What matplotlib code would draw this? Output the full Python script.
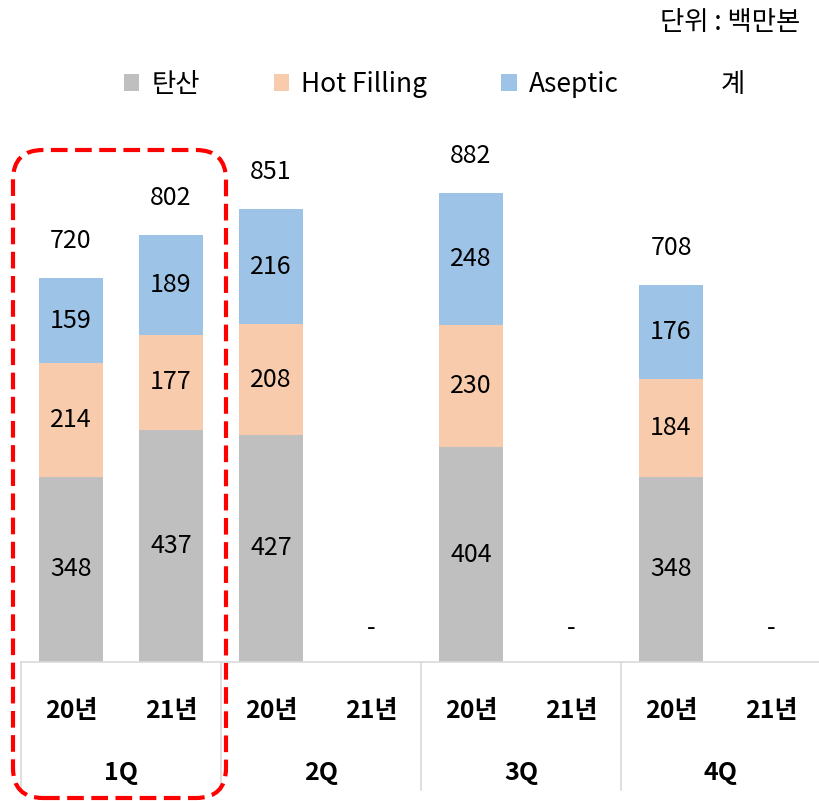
import matplotlib
matplotlib.use("Agg")
import matplotlib.pyplot as plt
from matplotlib.patches import Patch, FancyBboxPatch
from matplotlib.lines import Line2D
import matplotlib.transforms as mtrans
import numpy as np

plt.rcParams['font.family'] = ['Noto Sans CJK KR', 'DejaVu Sans']

quarters = ["1Q", "2Q", "3Q", "4Q"]
years = ["20년", "21년"]
# order: 1Q20, 1Q21, 2Q20, 2Q21, 3Q20, 3Q21, 4Q20, 4Q21 (None = no data)
soda = [348, 437, 427, None, 404, None, 348, None]
hot_filling = [214, 177, 208, None, 230, None, 184, None]
aseptic = [159, 189, 216, None, 248, None, 176, None]
totals = [720, 802, 851, None, 882, None, 708, None]
series_names = ["탄산", "Hot Filling", "Aseptic", "계"]
colors = ["#BFBFBF", "#F8CBAD", "#9DC3E6"]
unit_label = "단위 : 백만본"

W, H = 819, 801
fig = plt.figure(figsize=(W / 100, H / 100), dpi=100)
ax = fig.add_axes([21 / W, (H - 662) / H, 800 / W, 532 / H])
ax.set_xlim(-0.5, 7.5)
ax.set_ylim(0, 1000)

x = np.arange(len(soda))
bw = 0.64
fs = 18
bottom = np.zeros(len(x))
for vals, col in zip([soda, hot_filling, aseptic], colors):
    for i, v in enumerate(vals):
        if v is None:
            continue
        ax.bar(x[i], v, bw, bottom=bottom[i], color=col, edgecolor='none')
        ax.text(x[i], bottom[i] + v / 2, str(v), ha='center', va='center', fontsize=fs, color='black')
        bottom[i] += v

for i, t in enumerate(totals):
    if t is None:
        ax.annotate("-", (x[i], 0), xytext=(0, 34), textcoords='offset pixels',
                    ha='center', va='center', fontsize=fs)
    else:
        ax.annotate(str(t), (x[i], bottom[i]), xytext=(0, 37), textcoords='offset pixels',
                    ha='center', va='center', fontsize=fs)

for s in ['top', 'right', 'left']:
    ax.spines[s].set_visible(False)
ax.spines['bottom'].set_color('#D9D9D9')
ax.spines['bottom'].set_linewidth(1.2)
ax.set_yticks([])
ax.set_xticks(x)
ax.set_xticklabels(years * len(quarters), fontsize=fs, fontweight='bold')
ax.tick_params(axis='x', length=0, pad=27)

trans = mtrans.blended_transform_factory(ax.transData, ax.transAxes)
for b in np.arange(-0.5, 7.5, 2):
    ax.plot([b, b], [0, -128 / 532], transform=trans, color='#D9D9D9', lw=1.2, clip_on=False)
for qi, q in enumerate(quarters):
    ax.text(2 * qi + 0.5, -111 / 532, q, transform=trans, ha='center', va='center',
            fontsize=fs, fontweight='bold')

handles = [Patch(facecolor=c, edgecolor='none') for c in colors]
handles.append(Line2D([], [], color='none'))
fig.legend(handles, series_names, loc='center', bbox_to_anchor=(0.53, (H - 84) / H), ncol=4,
           frameon=False, fontsize=19, handlelength=0.6, handleheight=0.6, handletextpad=0.45,
           columnspacing=2.8)

fig.text(800 / W, (H - 22) / H, unit_label, ha='right', va='center', fontsize=19)

box = FancyBboxPatch((0.13, 0.03), 2.13, 6.48, boxstyle="round,pad=0,rounding_size=0.3",
                     transform=fig.dpi_scale_trans, facecolor='none', edgecolor='#FF0000',
                     lw=3, linestyle=(0, (4, 1.8)), clip_on=False)
fig.patches.append(box)

fig.savefig("out.png", dpi=100)
